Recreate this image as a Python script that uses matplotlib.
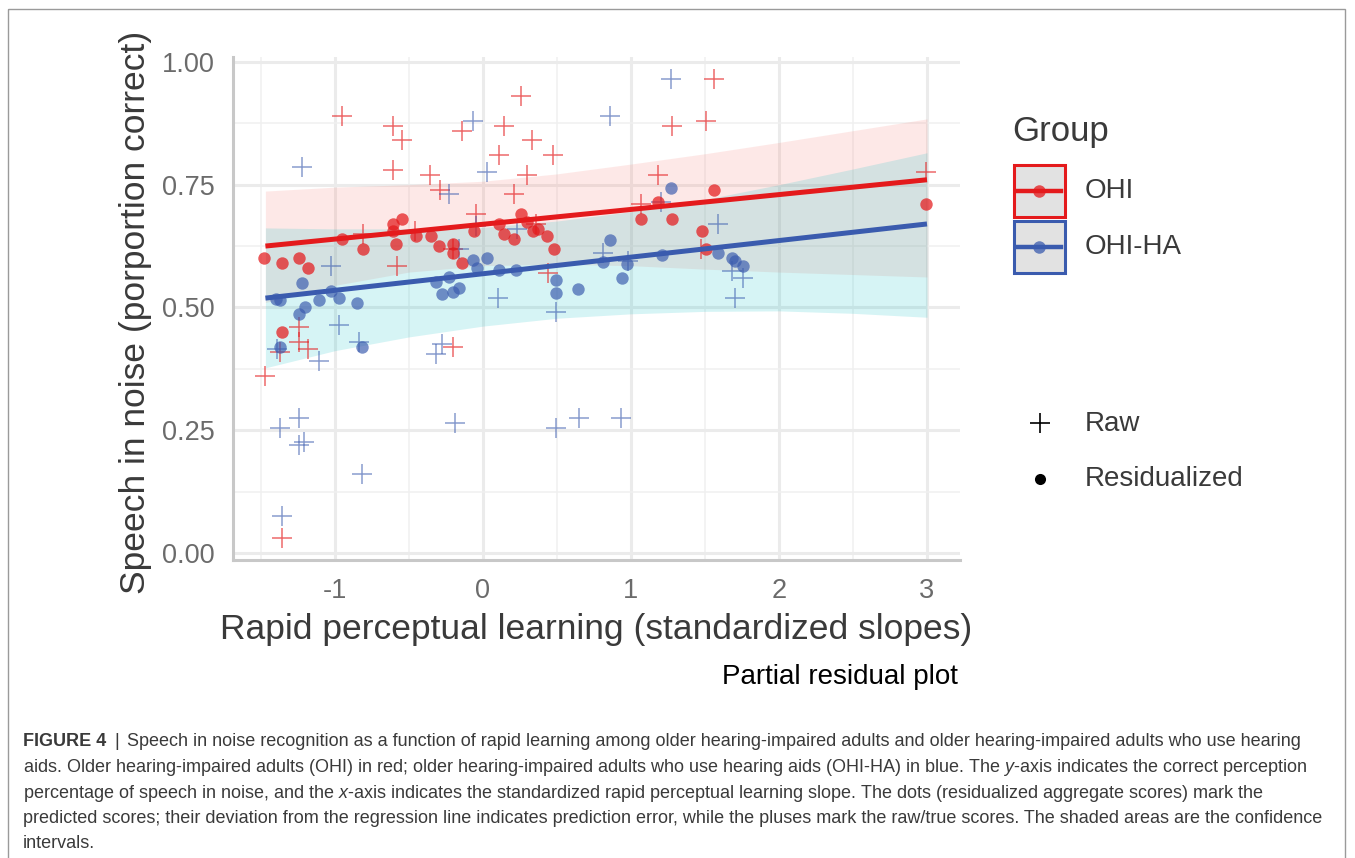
import numpy as np
import matplotlib
matplotlib.use("Agg")
from matplotlib import pyplot as plt
from matplotlib import font_manager
from matplotlib.patches import Rectangle
from matplotlib.lines import Line2D

installed = {f.name for f in font_manager.fontManager.ttflist}
main_font = "Liberation Sans" if "Liberation Sans" in installed else "DejaVu Sans"
narrow_font = "Liberation Sans Narrow" if "Liberation Sans Narrow" in installed else main_font
plt.rcParams["font.family"] = [main_font, "DejaVu Sans"]
plt.rcParams["mathtext.fontset"] = "custom"
plt.rcParams["mathtext.rm"] = narrow_font
plt.rcParams["mathtext.it"] = narrow_font + ":italic"

# OHI group: raw scores (pluses) and residualized scores (dots)
ohi_raw_x = [-1.47, -1.36, -1.37, -1.24, -1.24, -1.18, -0.95, -0.61, -0.55, -0.61, -0.58, -0.81,
             -0.46, -0.36, -0.29, -0.14, -0.05, -0.20, -0.20, 0.14, 0.11, 0.26, 0.33, 0.47,
             0.30, 0.21, 0.36, 0.44, 1.07, 1.18, 1.28, 1.51, 1.56, 1.47, 2.99]
ohi_raw_y = [0.36, 0.03, 0.41, 0.46, 0.43, 0.415, 0.89, 0.87, 0.84, 0.78, 0.585, 0.65,
             0.655, 0.77, 0.74, 0.86, 0.69, 0.62, 0.42, 0.87, 0.81, 0.93, 0.84, 0.81,
             0.77, 0.73, 0.67, 0.57, 0.71, 0.77, 0.87, 0.88, 0.965, 0.62, 0.775]
ohi_res_x = [-1.48, -1.36, -1.24, -1.18, -0.95, -0.81, -0.61, -0.55, -0.61, -0.59, -0.45, -0.35,
             -0.30, -0.20, -0.20, -0.14, -1.36, -0.06, 0.11, 0.14, 0.21, 0.26, 0.30, 0.34,
             0.37, 0.43, 0.48, 1.07, 1.18, 1.28, 1.56, 1.48, 1.51, 2.99]
ohi_res_y = [0.60, 0.59, 0.60, 0.58, 0.64, 0.62, 0.67, 0.68, 0.655, 0.63, 0.645, 0.645,
             0.625, 0.63, 0.61, 0.59, 0.45, 0.655, 0.67, 0.65, 0.64, 0.69, 0.675, 0.655,
             0.66, 0.645, 0.62, 0.68, 0.715, 0.68, 0.74, 0.655, 0.62, 0.71]

# OHI-HA group
ha_raw_x = [-1.22, -0.07, 0.03, -0.23, -1.03, -0.16, 0.10, -0.05, 0.23, -0.97, -1.39, -1.11,
            -0.84, -0.28, -0.32, 0.49, -1.37, -1.24, -1.24, -1.21, -0.82, -1.36, -0.19, 0.49,
            0.65, 0.93, 1.27, 0.86, 0.81, 0.98, 1.20, 1.59, 1.68, 1.76, 1.70]
ha_raw_y = [0.785, 0.88, 0.775, 0.73, 0.585, 0.62, 0.52, 0.665, 0.66, 0.465, 0.415, 0.39,
            0.43, 0.425, 0.405, 0.49, 0.255, 0.275, 0.22, 0.225, 0.16, 0.075, 0.265, 0.255,
            0.275, 0.275, 0.965, 0.89, 0.61, 0.595, 0.715, 0.67, 0.575, 0.56, 0.52]
ha_res_x = [-1.22, -1.40, -1.37, -1.11, -1.03, -0.97, -0.85, -1.20, -1.24, -1.37, -0.82, -0.32,
            -0.23, -0.28, -0.20, -0.16, -0.07, -0.04, 0.03, 0.11, 0.22, 0.49, 0.49, 0.64,
            0.86, 0.81, 0.97, 0.94, 1.21, 1.27, 1.59, 1.68, 1.70, 1.76]
ha_res_y = [0.55, 0.517, 0.515, 0.515, 0.533, 0.52, 0.51, 0.50, 0.487, 0.42, 0.42, 0.552,
            0.562, 0.527, 0.532, 0.54, 0.597, 0.58, 0.60, 0.577, 0.577, 0.556, 0.53, 0.537,
            0.637, 0.593, 0.588, 0.56, 0.607, 0.743, 0.61, 0.60, 0.595, 0.585]

# fitted lines and confidence bands
fit_x = [-1.47, 3.0]
ohi_fit = [0.625, 0.76]
ha_fit = [0.519, 0.67]
band_x = [-1.47, -1.0, -0.5, 0.0, 0.5, 1.0, 1.5, 2.0, 2.5, 3.0]
ohi_lo = [0.510, 0.545, 0.572, 0.585, 0.588, 0.585, 0.578, 0.572, 0.567, 0.562]
ohi_hi = [0.737, 0.745, 0.750, 0.757, 0.772, 0.792, 0.813, 0.836, 0.860, 0.884]
ha_lo = [0.377, 0.412, 0.440, 0.462, 0.478, 0.487, 0.492, 0.493, 0.488, 0.480]
ha_hi = [0.662, 0.660, 0.660, 0.663, 0.676, 0.695, 0.720, 0.750, 0.782, 0.815]

x_ticks = [-1, 0, 1, 2, 3]
y_ticks = [0.00, 0.25, 0.50, 0.75, 1.00]

red = "#E41A1C"
blue = "#3A5BAE"
W, H = 1355, 858

fig = plt.figure(figsize=(W / 100, H / 100), dpi=100)
ax = fig.add_axes([233 / W, 1 - 560 / H, 727 / W, 503 / H])

ax.fill_between(band_x, ohi_lo, ohi_hi, color="#F8766D", alpha=0.16, lw=0, zorder=2)
ax.fill_between(band_x, ha_lo, ha_hi, color="#00BFC4", alpha=0.16, lw=0, zorder=2)

ax.plot(ohi_raw_x, ohi_raw_y, "+", color=red, alpha=0.65, ms=14, mew=1.1, zorder=3)
ax.plot(ha_raw_x, ha_raw_y, "+", color=blue, alpha=0.6, ms=14, mew=1.1, zorder=3)
ax.scatter(ohi_res_x, ohi_res_y, s=80, color=red, alpha=0.72, lw=0, zorder=4)
ax.scatter(ha_res_x, ha_res_y, s=80, color=blue, alpha=0.68, lw=0, zorder=4)
ax.plot(fit_x, ohi_fit, color=red, lw=3.6, solid_capstyle="butt", zorder=5)
ax.plot(fit_x, ha_fit, color=blue, lw=3.6, solid_capstyle="butt", zorder=5)

ax.set_xlim(-1.689, 3.223)
ax.set_ylim(-0.0143, 1.010)
ax.set_xticks(x_ticks)
ax.set_xticklabels([str(t) for t in x_ticks])
ax.set_yticks(y_ticks)
ax.set_yticklabels(["%.2f" % t for t in y_ticks])
ax.set_xticks([-1.5, -0.5, 0.5, 1.5, 2.5], minor=True)
ax.set_yticks([0.125, 0.375, 0.625, 0.875], minor=True)
ax.grid(which="major", color="#EBEBEB", lw=2.2, zorder=0)
ax.grid(which="minor", color="#F0F0F0", lw=1.1, zorder=0)
ax.set_axisbelow(True)
ax.tick_params(which="both", length=0)
ax.tick_params(axis="x", pad=13, labelsize=19.5, labelcolor="#6B6B6B")
ax.tick_params(axis="y", pad=13, labelsize=19.5, labelcolor="#6B6B6B")
for side in ["top", "right"]:
    ax.spines[side].set_visible(False)
for side in ["left", "bottom"]:
    ax.spines[side].set_color("#C8C8C8")
    ax.spines[side].set_linewidth(2.2)

ax.set_xlabel("Rapid perceptual learning (standardized slopes)", fontsize=25.5,
              color="#3A3A3A", va="center")
ax.set_ylabel("Speech in noise (porportion correct)", fontsize=25.5,
              color="#3A3A3A", va="center")
ax.xaxis.set_label_coords((596 - 233) / 727, -(630 - 560) / 503)
ax.yaxis.set_label_coords(-(233 - 136) / 727, (560 - 312) / 503)

# overlay in pixel units for frame, legend and caption
ov = fig.add_axes([0, 0, 1, 1], facecolor="none")
ov.set_xlim(0, W)
ov.set_ylim(H, 0)
ov.axis("off")
ov.add_patch(Rectangle((8, 9), 1337, 860, fill=False, ec="#9A9A9A", lw=1.0))

txt = "#3A3A3A"
ov.text(1012, 131, "Group", fontsize=25, color=txt, va="center", ha="left")
for yc, col, label in [(191, red, "OHI"), (247, blue, "OHI-HA")]:
    ov.add_patch(Rectangle((1014, yc - 26), 51, 52, fc="#E2E2E2", ec=col, lw=2.2))
    ov.add_line(Line2D([1018, 1061], [yc, yc], color=col, lw=3.2))
    ov.plot(1039, yc, "o", ms=9, color=col, alpha=0.75, mew=0)
    ov.text(1085, yc, label, fontsize=20, color=txt, va="center", ha="left")
ov.plot(1040, 423, "+", ms=15, mew=1.2, color="black")
ov.text(1085, 424, "Raw", fontsize=20, color=txt, va="center", ha="left")
ov.plot(1040, 479, "o", ms=8, color="black", mew=0)
ov.text(1085, 479, "Residualized", fontsize=20, color=txt, va="center", ha="left")

ov.text(958, 677, "Partial residual plot", fontsize=20, color="black", va="center", ha="right")

cap_lines = [
    "Speech in noise recognition as a function of rapid learning among older hearing-impaired adults and older hearing-impaired adults who use hearing",
    "aids. Older hearing-impaired adults (OHI) in red; older hearing-impaired adults who use hearing aids (OHI-HA) in blue. The $y$-axis indicates the correct perception",
    "percentage of speech in noise, and the $x$-axis indicates the standardized rapid perceptual learning slope. The dots (residualized aggregate scores) mark the",
    "predicted scores; their deviation from the regression line indicates prediction error, while the pluses mark the raw/true scores. The shaded areas are the confidence",
    "intervals.",
]
cap_y = [742, 767.5, 793, 818.5, 844]

# size the caption so the first line spans the page width
renderer = fig.canvas.get_renderer()
probe = ov.text(0, 0, "FIGURE 4  |  " + cap_lines[0], fontsize=10, family=narrow_font)
w10 = probe.get_window_extent(renderer).width
probe.remove()
cap_size = 10 * (1308 - 23) / w10

head = ov.text(23, cap_y[0], "FIGURE 4", fontsize=cap_size, family=narrow_font,
               weight="bold", color=txt, va="center")
hw = head.get_window_extent(renderer).width
bar = ov.text(23 + hw + 8, cap_y[0], "|", fontsize=cap_size, family=narrow_font,
              color=txt, va="center")
bw = bar.get_window_extent(renderer).width
ov.text(23 + hw + 8 + bw + 8, cap_y[0], cap_lines[0], fontsize=cap_size,
        family=narrow_font, color=txt, va="center")
for line, yy in zip(cap_lines[1:], cap_y[1:]):
    ov.text(23, yy, line, fontsize=cap_size, family=narrow_font, color=txt, va="center")

fig.savefig("out.png", dpi=100)
